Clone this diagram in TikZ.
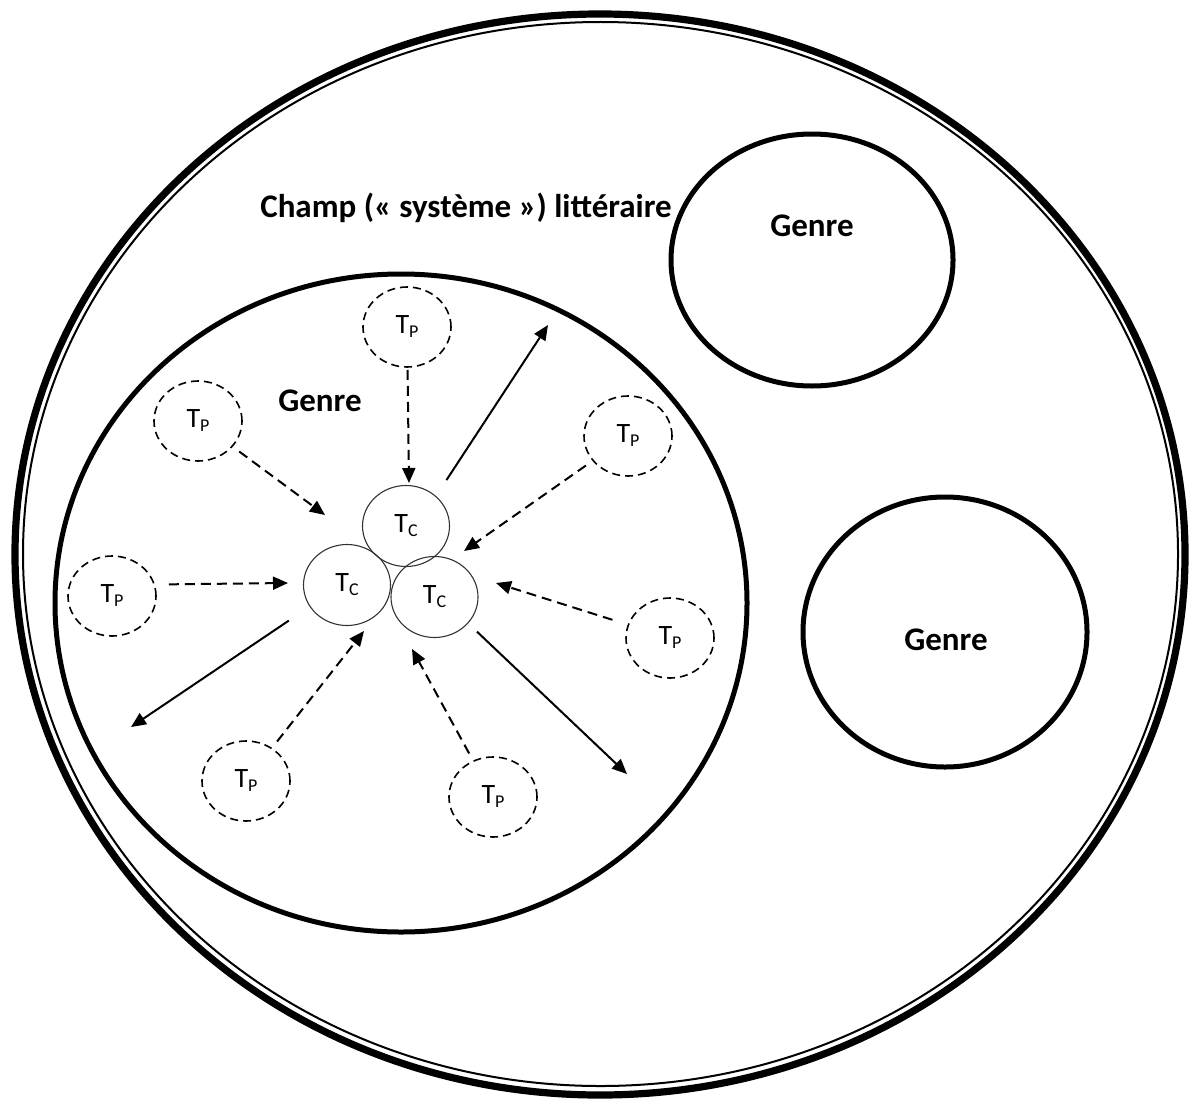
\documentclass[tikz,border=0pt]{standalone}
\usepackage{fontspec}
\setmainfont{Carlito}
\usetikzlibrary{shapes.geometric,arrows.meta}

\newcommand{\Tsub}[1]{T\raisebox{-2pt}{\fontsize{9}{9}\selectfont #1}}

\begin{document}
\begin{tikzpicture}[x=0.5pt,y=-0.5pt,
	tpcircle/.style={ellipse, draw, line width=0.8pt, dash pattern=on 4pt off 2.5pt, inner sep=0pt, minimum width=44pt, minimum height=40pt, font=\fontsize{14}{14}\selectfont},
	tccircle/.style={ellipse, draw=black!80, line width=0.55pt, inner sep=0pt, minimum width=43.5pt, minimum height=40.5pt, font=\fontsize{14}{14}\selectfont},
	dasharrow/.style={-{Triangle[length=7.5pt,width=6.5pt]}, line width=1pt, dash pattern=on 5pt off 3pt, shorten <=4pt},
	solidarrow/.style={-{Triangle[length=7.5pt,width=6.5pt]}, line width=1pt},
	genre/.style={line width=2.5pt},
	genrelabel/.style={anchor=base, font=\fontsize{16.5}{16.5}\selectfont\bfseries}]

	\useasboundingbox (0,0) rectangle (1192,1102);

	% champ litteraire (double trait)
	\draw[line width=3.6pt]	(600,554.5)	ellipse	[x radius=585, y radius=540.5];
	\draw[line width=1pt]	(600.5,554)	ellipse	[x radius=577.5, y radius=532];

	% genres
	\draw[genre]	(401,603)	ellipse	[x radius=346, y radius=329];
	\draw[genre]	(812,260)	ellipse	[x radius=141, y radius=126];
	\draw[genre]	(945,632)	ellipse	[x radius=142, y radius=135];

	\node 	(champ)	at	(466,217)	[genrelabel]{Champ (« système ») littéraire};
	\node 	(g1)	at	(320,411)	[genrelabel]{Genre};
	\node 	(g2)	at	(812,236)	[genrelabel]{Genre};
	\node 	(g3)	at	(946,650)	[genrelabel]{Genre};

	% textes centraux
	\node 	(tc1)	at	(406,526)	[tccircle]{\Tsub{C}};
	\node 	(tc2)	at	(347,585)	[tccircle]{\Tsub{C}};
	\node 	(tc3)	at	(434.5,597)	[tccircle]{\Tsub{C}};

	% textes peripheriques
	\node 	(tp1)	at	(407,327)	[tpcircle]{\Tsub{P}};
	\node 	(tp2)	at	(198,421)	[tpcircle]{\Tsub{P}};
	\node 	(tp3)	at	(628,436)	[tpcircle]{\Tsub{P}};
	\node 	(tp4)	at	(112,596)	[tpcircle]{\Tsub{P}};
	\node 	(tp5)	at	(670,638)	[tpcircle]{\Tsub{P}};
	\node 	(tp6)	at	(246,781)	[tpcircle]{\Tsub{P}};
	\node 	(tp7)	at	(493,797)	[tpcircle]{\Tsub{P}};

	\coordinate	(h1)	at	(409,483);
	\coordinate	(h2)	at	(325,515);
	\coordinate	(h3)	at	(464,551);
	\coordinate	(h4)	at	(288,583);
	\coordinate	(h5)	at	(496,583);
	\coordinate	(h6)	at	(364,631);
	\coordinate	(h7)	at	(412,649);

	\coordinate	(o1)	at	(548,325);
	\coordinate	(o2)	at	(131,727);
	\coordinate	(o3)	at	(627,774);

	\draw[dasharrow, shorten <=1pt]	(tp1)	--	(h1);
	\draw[dasharrow]	(tp2)	--	(h2);
	\draw[dasharrow]	(tp3)	--	(h3);
	\draw[dasharrow, shorten <=7pt]	(tp4.15)	--	(h4);
	\draw[dasharrow, shorten <=8pt]	(tp5)	--	(h5);
	\draw[dasharrow]	(tp6)	--	(h6);
	\draw[dasharrow]	(tp7)	--	(h7);

	\draw[solidarrow, shorten <=9.5pt]	(tc1.45)	--	(o1);
	\draw[solidarrow, shorten <=12.5pt]	(tc2.210)	--	(o2);
	\draw[solidarrow, shorten <=6pt]	(tc3.-38)	--	(o3);

\end{tikzpicture}
\end{document}
